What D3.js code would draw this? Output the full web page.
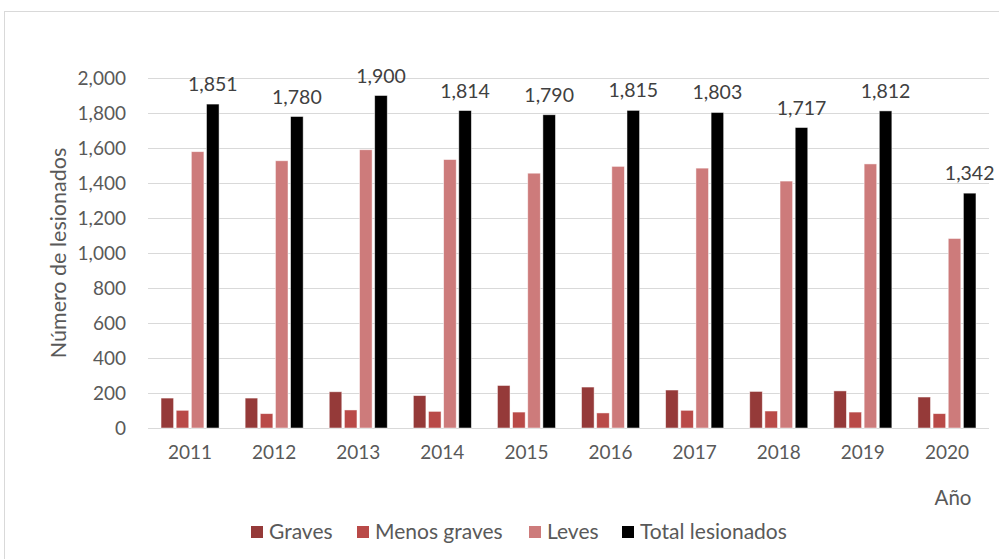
<!DOCTYPE html>
<html>
<head>
<meta charset="utf-8">
<script src="https://cdn.jsdelivr.net/npm/d3@7"></script>
<style>
  html, body { margin: 0; padding: 0; background: #fff; }
  svg { display: block; font-family: Lato, "Open Sans", sans-serif; }
</style>
</head>
<body>
<svg id="chart" width="999" height="559"></svg>
<script>
// Injured people per year, by severity
const years = ["2011", "2012", "2013", "2014", "2015", "2016", "2017", "2018", "2019", "2020"];
const graves = [171, 171, 207, 185, 243, 234, 217, 209, 212, 177];
const menosGraves = [101, 82, 103, 95, 91, 86, 101, 97, 91, 82];
const leves = [1579, 1527, 1590, 1534, 1456, 1495, 1485, 1411, 1509, 1083];
const totalLesionados = [1851, 1780, 1900, 1814, 1790, 1815, 1803, 1717, 1812, 1342];
const seriesNames = ["Graves", "Menos graves", "Leves", "Total lesionados"];
const seriesColors = ["#953a39", "#b94a48", "#cd7b7b", "#000000"];
const yTicks = [0, 200, 400, 600, 800, 1000, 1200, 1400, 1600, 1800, 2000];

const seriesValues = [graves, menosGraves, leves, totalLesionados];
const rows = years.map((y, i) => ({
  year: y,
  values: seriesNames.map((s, k) => ({ key: s, value: seriesValues[k][i], idx: k }))
}));

const svg = d3.select("#chart");
const plot = { left: 148, right: 989, top: 78, bottom: 428 };

// chart frame
svg.append("rect")
  .attr("x", 4.5).attr("y", 11.5)
  .attr("width", 1010).attr("height", 560)
  .attr("fill", "none").attr("stroke", "#d9d9d9").attr("stroke-width", 1);

const y = d3.scaleLinear().domain([0, 2000]).range([plot.bottom, plot.top]);
const x0 = d3.scaleBand().domain(years).range([plot.left, plot.right])
  .paddingInner(0.31).paddingOuter(0.155);
const x1 = d3.scaleBand().domain(seriesNames).range([0, x0.bandwidth()]).paddingInner(0.17);

const fmt = d3.format(",");

// gridlines
svg.append("g")
  .selectAll("line")
  .data(yTicks)
  .join("line")
  .attr("x1", plot.left).attr("x2", plot.right)
  .attr("y1", d => Math.round(y(d)) + 0.5).attr("y2", d => Math.round(y(d)) + 0.5)
  .attr("stroke", "#d9d9d9").attr("stroke-width", 1);

// y axis labels
const yAxis = svg.append("g")
  .attr("transform", `translate(${plot.left},0)`)
  .call(d3.axisLeft(y).tickValues(yTicks).tickFormat(fmt).tickSize(0).tickPadding(22));
yAxis.select(".domain").remove();
yAxis.selectAll("text")
  .attr("fill", "#595959").style("font-size", "19px").style("font-family", "Lato, sans-serif");

// x axis labels
const xAxis = svg.append("g")
  .attr("transform", `translate(0,${plot.bottom})`)
  .call(d3.axisBottom(x0).tickSize(0).tickPadding(18));
xAxis.select(".domain").remove();
xAxis.selectAll("text")
  .attr("fill", "#595959").style("font-size", "19px").style("font-family", "Lato, sans-serif");

// bars
const groups = svg.append("g")
  .selectAll("g")
  .data(rows)
  .join("g")
  .attr("transform", d => `translate(${x0(d.year)},0)`);

groups.selectAll("rect")
  .data(d => d.values)
  .join("rect")
  .attr("x", d => x1(d.key))
  .attr("y", d => y(d.value))
  .attr("width", x1.bandwidth())
  .attr("height", d => y(0) - y(d.value))
  .attr("fill", d => seriesColors[d.idx])
  .attr("stroke", "#ffffff")
  .attr("stroke-opacity", 0.6)
  .attr("stroke-width", 0.8);

// value labels on the total bars
svg.append("g")
  .selectAll("text")
  .data(rows)
  .join("text")
  .attr("x", d => x0(d.year) + x1("Total lesionados") + x1.bandwidth() / 2)
  .attr("y", (d, i) => y(totalLesionados[i]) - 13)
  .attr("text-anchor", "middle")
  .attr("fill", "#404040")
  .style("font-size", "19.5px")
  .text((d, i) => fmt(totalLesionados[i]));

// axis titles
svg.append("text")
  .attr("transform", `translate(66,${(plot.top + plot.bottom) / 2}) rotate(-90)`)
  .attr("text-anchor", "middle")
  .attr("fill", "#595959")
  .style("font-size", "21.5px")
  .text("Número de lesionados");

svg.append("text")
  .attr("x", 953).attr("y", 505)
  .attr("text-anchor", "middle")
  .attr("fill", "#595959")
  .style("font-size", "20.5px")
  .text("Año");

// legend
const legendX = [251, 357, 529, 622];
const legend = svg.append("g")
  .selectAll("g")
  .data(seriesNames)
  .join("g")
  .attr("transform", (d, i) => `translate(${legendX[i]},526)`);
legend.append("rect")
  .attr("width", 12).attr("height", 12)
  .attr("fill", (d, i) => seriesColors[i]);
legend.append("text")
  .attr("x", 18).attr("y", 13)
  .attr("fill", "#595959")
  .style("font-size", "21px")
  .text(d => d);
</script>
</body>
</html>
